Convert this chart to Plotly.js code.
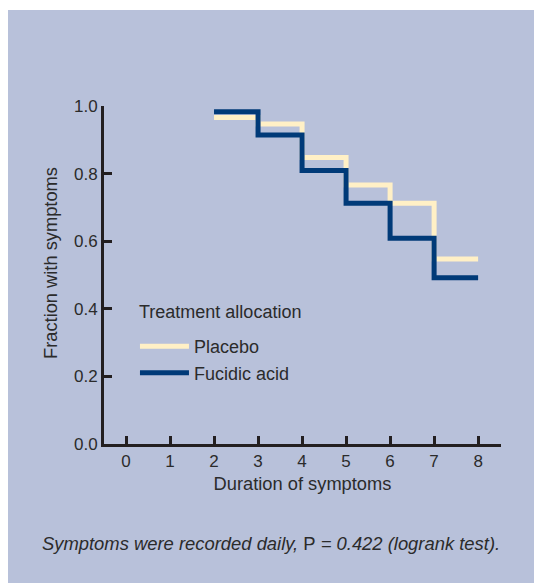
<!DOCTYPE html>
<html>
<head>
<meta charset="utf-8">
<script src="https://cdn.plot.ly/plotly-3.0.1.min.js"></script>
<style>
html, body { margin: 0; padding: 0; background: #ffffff; }
#chart { position: absolute; left: 8px; top: 10px; width: 526px; height: 573px; }
</style>
</head>
<body>
<div id="chart"></div>
<script>
// Data
const days = [2, 3, 4, 5, 6, 7, 8];
const placebo = [0.966, 0.947, 0.848, 0.766, 0.712, 0.547, 0.547];
const fucidic = [0.983, 0.914, 0.809, 0.712, 0.609, 0.492, 0.492];
const xTicks = [0, 1, 2, 3, 4, 5, 6, 7, 8];
const yTicks = [0, 0.2, 0.4, 0.6, 0.8, 1.0];
const yTickLabels = ['0.0', '0.2', '0.4', '0.6', '0.8', '1.0'];
const seriesNames = ['Placebo', 'Fucidic acid'];

const FONT = 'Liberation Sans, Arial, sans-serif';
const TXT = '#2b2b2b';
const AX = '#231f20';

const traces = [
  { x: days, y: placebo, name: seriesNames[0], type: 'scatter', mode: 'lines',
    line: { shape: 'hv', color: '#fff0c6', width: 5 } },
  { x: days, y: fucidic, name: seriesNames[1], type: 'scatter', mode: 'lines',
    line: { shape: 'hv', color: '#003a78', width: 5 } }
];

const layout = {
  width: 526, height: 573,
  paper_bgcolor: '#b8c1da', plot_bgcolor: 'rgba(0,0,0,0)',
  margin: { l: 96, r: 33, t: 96, b: 139 },
  font: { family: FONT, size: 17, color: TXT },
  showlegend: true,
  legend: {
    x: 0.078, y: 0.343, xanchor: 'left', yanchor: 'top',
    bgcolor: 'rgba(0,0,0,0)',
    font: { size: 18, color: TXT },
    itemwidth: 49,
    tracegroupgap: 0
  },
  xaxis: {
    range: [-0.5, 8.52], tickvals: xTicks, ticktext: xTicks.map(String),
    showline: true, linecolor: AX, linewidth: 3, mirror: false,
    ticks: 'inside', ticklen: 8, tickwidth: 3, tickcolor: AX,
    showgrid: false, zeroline: false,
    tickfont: { size: 17, color: TXT },
    title: { text: 'Duration of symptoms', font: { size: 18.3, color: TXT }, standoff: 7 }
  },
  yaxis: {
    range: [0, 1], tickvals: yTicks, ticktext: yTickLabels,
    showline: true, linecolor: AX, linewidth: 3,
    ticks: 'inside', ticklen: 8, tickwidth: 3, tickcolor: AX,
    showgrid: false, zeroline: false,
    tickfont: { size: 17, color: TXT }
  },
  annotations: [
    {
      text: 'Fraction with symptoms', textangle: -90,
      xref: 'paper', yref: 'paper', x: -0.136, y: 0.5355,
      xanchor: 'center', yanchor: 'middle', showarrow: false,
      font: { family: FONT, size: 18.3, color: TXT }
    },
    {
      text: 'Treatment allocation',
      xref: 'paper', yref: 'paper', x: 0.0832, y: 0.3905,
      xanchor: 'left', yanchor: 'middle', showarrow: false,
      font: { family: FONT, size: 18, color: TXT }
    },
    {
      text: '<i>Symptoms were recorded daily, </i>P<i> = 0.422 (logrank test).</i>',
      xref: 'paper', yref: 'paper', x: 0.42, y: -0.293,
      xanchor: 'center', yanchor: 'middle', showarrow: false,
      font: { family: FONT, size: 18.4, color: TXT }
    }
  ]
};

Plotly.newPlot('chart', traces, layout, { displayModeBar: false, staticPlot: true });
</script>
</body>
</html>
